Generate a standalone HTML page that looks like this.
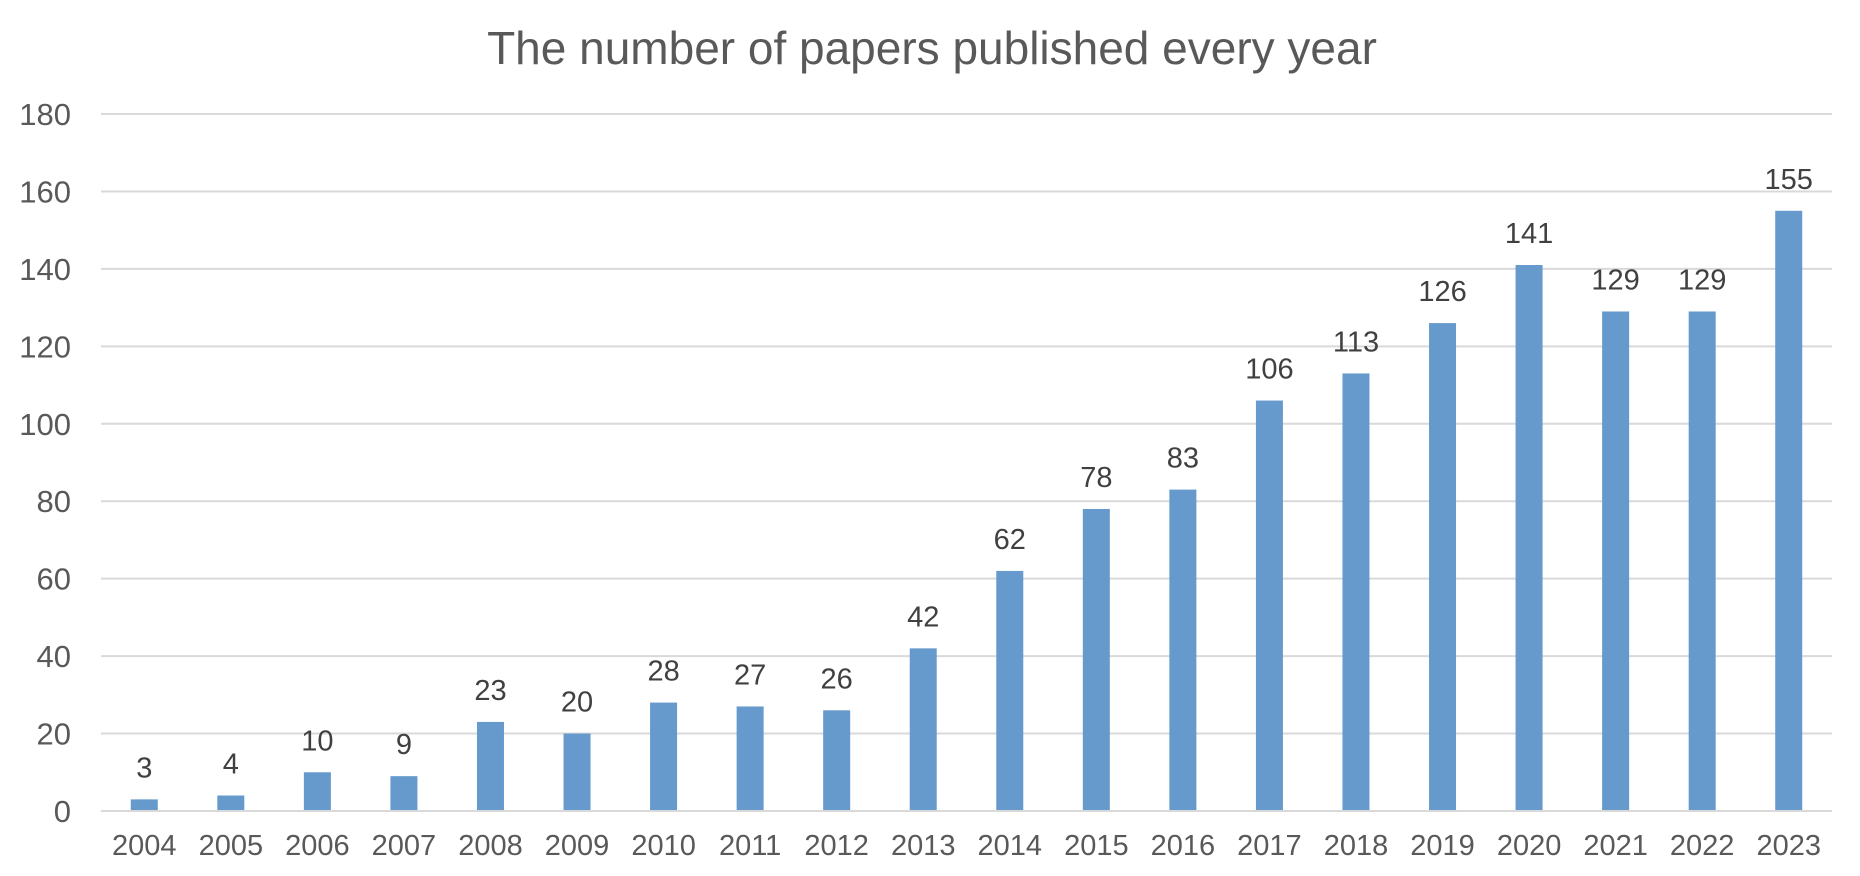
<!DOCTYPE html>
<html><head><meta charset="utf-8"><style>
html,body{margin:0;padding:0;background:#fff;}
svg{display:block;font-family:"Liberation Sans",Arial,sans-serif;}
</style></head><body>
<svg id="chart" width="1860" height="876" viewBox="0 0 1860 876">
<text x="932" y="64" text-anchor="middle" font-size="46" fill="#595959">The number of papers published every year</text>
<g id="grid"></g>
<g id="yticks"></g>
<g id="bars"></g>
<g id="vals"></g>
<g id="xticks"></g>
</svg>
<script>
const categories = ["2004","2005","2006","2007","2008","2009","2010","2011","2012","2013","2014","2015","2016","2017","2018","2019","2020","2021","2022","2023"];
const values = [3,4,10,9,23,20,28,27,26,42,62,78,83,106,113,126,141,129,129,155];
const yTicks = [0,20,40,60,80,100,120,140,160,180];

const NS = "http://www.w3.org/2000/svg";
const plotLeft = 101, plotRight = 1832, plotTop = 114, plotBottom = 811, yMax = 180;
const band = (plotRight - plotLeft) / categories.length;
const barW = 27;
function xScale(i){ return plotLeft + band * (i + 0.5); }
function yScale(v){ return plotBottom - (v / yMax) * (plotBottom - plotTop); }
function mk(tag, attrs, parent){ const e = document.createElementNS(NS, tag); for (const k in attrs) e.setAttribute(k, attrs[k]); parent.appendChild(e); return e; }

const grid = document.getElementById('grid'), yt = document.getElementById('yticks');
yTicks.forEach(t => {
  const y = yScale(t);
  const l = mk('line', {x1:plotLeft, x2:plotRight, y1:y, y2:y, stroke:'#d9d9d9', 'stroke-width':2}, grid);
  
  
  const tx = mk('text', {x:71, y:y+11, 'text-anchor':'end', 'font-size':31, fill:'#595959'}, yt);
  tx.textContent = t;
  
  
});
const bars = document.getElementById('bars'), vals = document.getElementById('vals'), xt = document.getElementById('xticks');
categories.forEach((c, i) => {
  const cx = xScale(i), v = values[i], y = yScale(v);
  const r = mk('rect', {x:cx - barW/2, y:y, width:barW, height:Math.max(0, plotBottom - 1 - y), fill:'#6699cc'}, bars);
  
  
  const vt = mk('text', {x:cx, y:y - 22, 'text-anchor':'middle', 'font-size':29, fill:'#404040'}, vals);
  vt.textContent = v;
  
  
  const xl = mk('text', {x:cx, y:855, 'text-anchor':'middle', 'font-size':29, fill:'#595959'}, xt);
  xl.textContent = c;
  
  
});
</script>
</body></html>
